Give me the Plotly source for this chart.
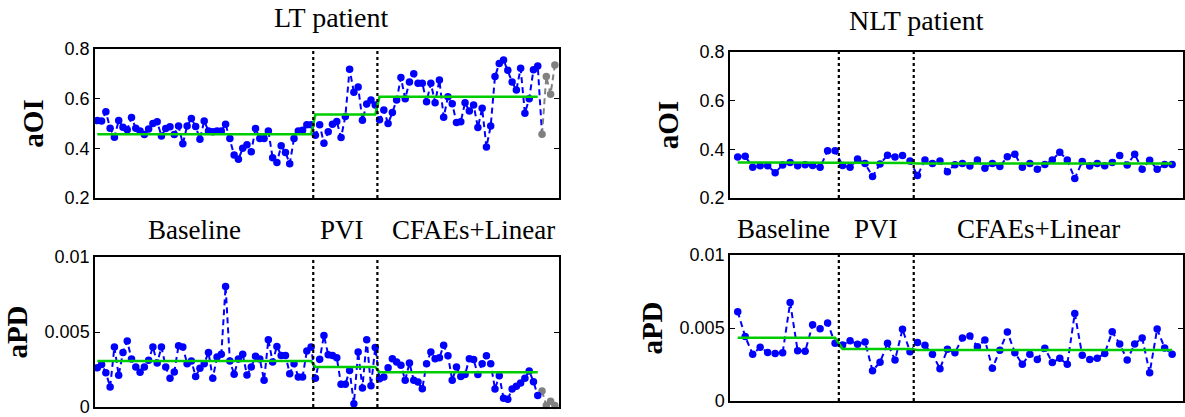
import numpy as np
import plotly.graph_objects as go

# ---------------- data ----------------
phases = ["Baseline", "PVI", "CFAEs+Linear"]

lt_counts = [51, 15, 38]
lt_aoi = [0.512, 0.51, 0.547, 0.481, 0.445, 0.512, 0.485, 0.475, 0.524, 0.481,
          0.47, 0.456, 0.478, 0.50, 0.507, 0.45, 0.48, 0.487, 0.456, 0.49,
          0.418, 0.49, 0.52, 0.488, 0.437, 0.51, 0.47, 0.467, 0.47, 0.47,
          0.497, 0.44, 0.373, 0.356, 0.40, 0.414, 0.386, 0.48, 0.44, 0.44,
          0.47, 0.362, 0.343, 0.41, 0.383, 0.338, 0.44, 0.47, 0.473, 0.495,
          0.495,
          0.453, 0.495, 0.42, 0.467, 0.497, 0.508, 0.444, 0.528, 0.718, 0.626,
          0.647, 0.513, 0.579, 0.595, 0.575,
          0.515, 0.554, 0.50, 0.544, 0.595, 0.685, 0.60, 0.667, 0.70, 0.662,
          0.662, 0.588, 0.662, 0.584, 0.675, 0.525, 0.608, 0.58, 0.504, 0.507,
          0.584, 0.55, 0.575, 0.484, 0.561, 0.405, 0.49, 0.689, 0.742, 0.756,
          0.714, 0.667, 0.635, 0.722, 0.541, 0.60, 0.716, 0.732]
lt_aoi_post = [0.457, 0.689, 0.618, 0.736]
lt_aoi_means = [0.457, 0.536, 0.608]

lt_apd = [0.00262, 0.00284, 0.00229, 0.00133, 0.004, 0.00211, 0.00364, 0.0044, 0.0032, 0.00267,
          0.00231, 0.00267, 0.00311, 0.004, 0.00293, 0.004, 0.00267, 0.00191, 0.00233, 0.00409,
          0.004, 0.00289, 0.00307, 0.00204, 0.00258, 0.00289, 0.00364, 0.00191, 0.00333, 0.00351,
          0.00804, 0.00307, 0.00218, 0.0032, 0.00351, 0.00213, 0.00267, 0.00338, 0.0032, 0.00178,
          0.00449, 0.003, 0.00404, 0.00344, 0.00344, 0.00222, 0.00289, 0.002, 0.002, 0.00373,
          0.004,
          0.00191, 0.00318, 0.00476, 0.00349, 0.00344, 0.00329, 0.00151, 0.00151, 0.00244, 0.00022,
          0.00367, 0.00127, 0.00449, 0.00142, 0.00396,
          0.00189, 0.002, 0.00262, 0.00322, 0.003, 0.00278, 0.00178, 0.00293, 0.00178, 0.00167,
          0.00122, 0.00289, 0.00367, 0.00322, 0.00329, 0.00411, 0.00342, 0.00178, 0.00267, 0.00204,
          0.00216, 0.00322, 0.00316, 0.00216, 0.00289, 0.00342, 0.00289, 0.0012, 0.00209, 0.00058,
          0.00051, 0.0012, 0.00138, 0.0016, 0.00191, 0.0024, 0.00169, 0.00076]
lt_apd_post = [0.00107, 0.0001, 0.00038, 0.0001]
lt_apd_means = [0.00307, 0.00267, 0.00231]

nlt_counts = [14, 10, 35]
nlt_aoi = [0.368, 0.372, 0.326, 0.333, 0.333, 0.304, 0.336, 0.346, 0.333, 0.337,
           0.334, 0.326, 0.394, 0.394,
           0.334, 0.326, 0.36, 0.342, 0.288, 0.34, 0.376, 0.368, 0.375, 0.352,
           0.292, 0.356, 0.342, 0.352, 0.308, 0.337, 0.342, 0.332, 0.356, 0.322,
           0.342, 0.329, 0.37, 0.38, 0.326, 0.342, 0.318, 0.338, 0.356, 0.388,
           0.356, 0.28, 0.35, 0.332, 0.342, 0.333, 0.346, 0.375, 0.336, 0.38,
           0.318, 0.355, 0.318, 0.338, 0.338]
nlt_aoi_means = [0.346, 0.344, 0.342]

nlt_apd = [0.00612, 0.00441, 0.0032, 0.00368, 0.00333, 0.00326, 0.00331, 0.00674, 0.00345, 0.0034,
           0.00523, 0.00495, 0.00534, 0.00395,
           0.00384, 0.00413, 0.00388, 0.00404, 0.00208, 0.00265, 0.00395, 0.00281, 0.00491, 0.00338,
           0.004, 0.00381, 0.0032, 0.00221, 0.00354, 0.00331, 0.00432, 0.00445, 0.00372, 0.00418,
           0.00224, 0.00347, 0.00473, 0.00331, 0.00251, 0.0032, 0.00285, 0.00361, 0.00263, 0.00292,
           0.00251, 0.006, 0.00313, 0.00285, 0.00292, 0.00326, 0.00475, 0.0039, 0.00281, 0.0039,
           0.00432, 0.00194, 0.00493, 0.00363, 0.0032]
nlt_apd_means = [0.00434, 0.00356, 0.00350]

aoi_ticks = [0.2, 0.4, 0.6, 0.8]
apd_ticks = [0, 0.005, 0.01]
apd_ticklabels = ["0", "0.005", "0.01"]

# ---------------- style ----------------
W, H = 1185, 417
BLUE = "rgb(0,0,255)"
GRAY = "rgb(128,128,128)"
GREEN = "rgb(0,205,0)"
SANS = "Liberation Sans"
SERIF = "Liberation Serif"

def px_x(a, b):
    return [a / W, b / W]

def px_y(top, bottom):
    return [1 - bottom / H, 1 - top / H]

fig = go.Figure()

def add_panel(idx, values, post, means, counts):
    xa = "x" if idx == 1 else f"x{idx}"
    ya = "y" if idx == 1 else f"y{idx}"
    n = len(values)
    x = np.arange(1, n + 1)
    green = np.repeat(means, counts)
    dash = "6px,4px"
    if post:
        xl = np.arange(1, n + 2)
        yl = list(values) + [post[0]]
        fig.add_trace(go.Scatter(x=xl, y=yl, mode="lines", xaxis=xa, yaxis=ya,
                                 line=dict(color=BLUE, width=2, dash=dash),
                                 showlegend=False, hoverinfo="skip"))
        xp = np.arange(n + 1, n + 1 + len(post))
        fig.add_trace(go.Scatter(x=xp, y=post, mode="lines+markers", xaxis=xa, yaxis=ya,
                                 line=dict(color=GRAY, width=2, dash=dash),
                                 marker=dict(color=GRAY, size=7.5),
                                 showlegend=False, cliponaxis=False))
        fig.add_trace(go.Scatter(x=x, y=values, mode="markers", xaxis=xa, yaxis=ya,
                                 marker=dict(color=BLUE, size=7.5), showlegend=False))
    else:
        fig.add_trace(go.Scatter(x=x, y=values, mode="lines+markers", xaxis=xa, yaxis=ya,
                                 line=dict(color=BLUE, width=2, dash=dash),
                                 marker=dict(color=BLUE, size=7.5), showlegend=False))
    fig.add_trace(go.Scatter(x=x, y=green, mode="lines", xaxis=xa, yaxis=ya,
                             line=dict(color=GREEN, width=2.5), showlegend=False))
    bounds = np.cumsum(counts)[:-1] + 0.5
    for b in bounds:
        fig.add_shape(type="line", xref=xa, yref=f"{ya} domain", x0=b, x1=b, y0=0, y1=1,
                      line=dict(color="black", width=2.2, dash="dot"), layer="above")

add_panel(1, lt_aoi, lt_aoi_post, lt_aoi_means, lt_counts)
add_panel(2, lt_apd, lt_apd_post, lt_apd_means, lt_counts)
add_panel(3, nlt_aoi, [], nlt_aoi_means, nlt_counts)
add_panel(4, nlt_apd, [], nlt_apd_means, nlt_counts)

xcommon = dict(showticklabels=False, ticks="", showgrid=False, zeroline=False,
               showline=True, linecolor="black", linewidth=1.5, mirror=True,
               automargin=False)
ycommon = dict(showgrid=False, zeroline=False, showline=True, linecolor="black",
               linewidth=1.5, mirror="ticks", ticks="inside", ticklen=5,
               tickcolor="black", automargin=False, ticklabeloverflow="allow",
               tickfont=dict(family=SANS, size=18, color="black"))
ytitle_font = dict(family=SERIF, size=29, color="black", weight="bold")

fig.update_layout(
    width=W, height=H, margin=dict(l=0, r=0, t=0, b=0),
    paper_bgcolor="white", plot_bgcolor="white",
    xaxis=dict(domain=px_x(95, 559), range=[0.46, 108.97], anchor="y", **xcommon),
    yaxis=dict(domain=px_y(49, 198), range=[0.2, 0.8], tickvals=aoi_ticks,
               anchor="x", title=dict(text="aOI", font=ytitle_font, standoff=12), **ycommon),
    xaxis2=dict(domain=px_x(95, 559), range=[0.46, 108.97], anchor="y2", **xcommon),
    yaxis2=dict(domain=px_y(257, 407), range=[0, 0.01], tickvals=apd_ticks,
                ticktext=apd_ticklabels, anchor="x2",
                title=dict(text="aPD", font=ytitle_font, standoff=8), **ycommon),
    xaxis3=dict(domain=px_x(730, 1183), range=[-0.03, 60.45], anchor="y3", **xcommon),
    yaxis3=dict(domain=px_y(52, 198), range=[0.2, 0.8], tickvals=aoi_ticks,
                anchor="x3", title=dict(text="aOI", font=ytitle_font, standoff=12), **ycommon),
    xaxis4=dict(domain=px_x(730, 1183), range=[-0.03, 60.45], anchor="y4", **xcommon),
    yaxis4=dict(domain=px_y(255, 401), range=[0, 0.01], tickvals=apd_ticks,
                ticktext=apd_ticklabels, anchor="x4",
                title=dict(text="aPD", font=ytitle_font, standoff=8), **ycommon),
)

def ann(text, xpix, ypix, size=27):
    fig.add_annotation(text=text, x=xpix / W, y=1 - ypix / H, xref="paper", yref="paper",
                       xanchor="center", yanchor="middle", showarrow=False,
                       font=dict(family=SERIF, size=size, color="black"))

ann("LT patient", 331, 18, 28)
ann("NLT patient", 916, 20, 28)
for name, xp in zip(phases, [194, 342, 473]):
    ann(name, xp, 230)
for name, xp in zip(phases, [783, 876, 1038]):
    ann(name, xp, 229)

fig.write_html("out.html", config={"displayModeBar": False})

# remove the browser's default page margin so the figure sits at (0, 0)
with open("out.html", "r", encoding="utf-8") as f:
    html = f.read()
html = html.replace("<head>", "<head><style>html,body{margin:0;padding:0;overflow:hidden;}</style>", 1)
with open("out.html", "w", encoding="utf-8") as f:
    f.write(html)
